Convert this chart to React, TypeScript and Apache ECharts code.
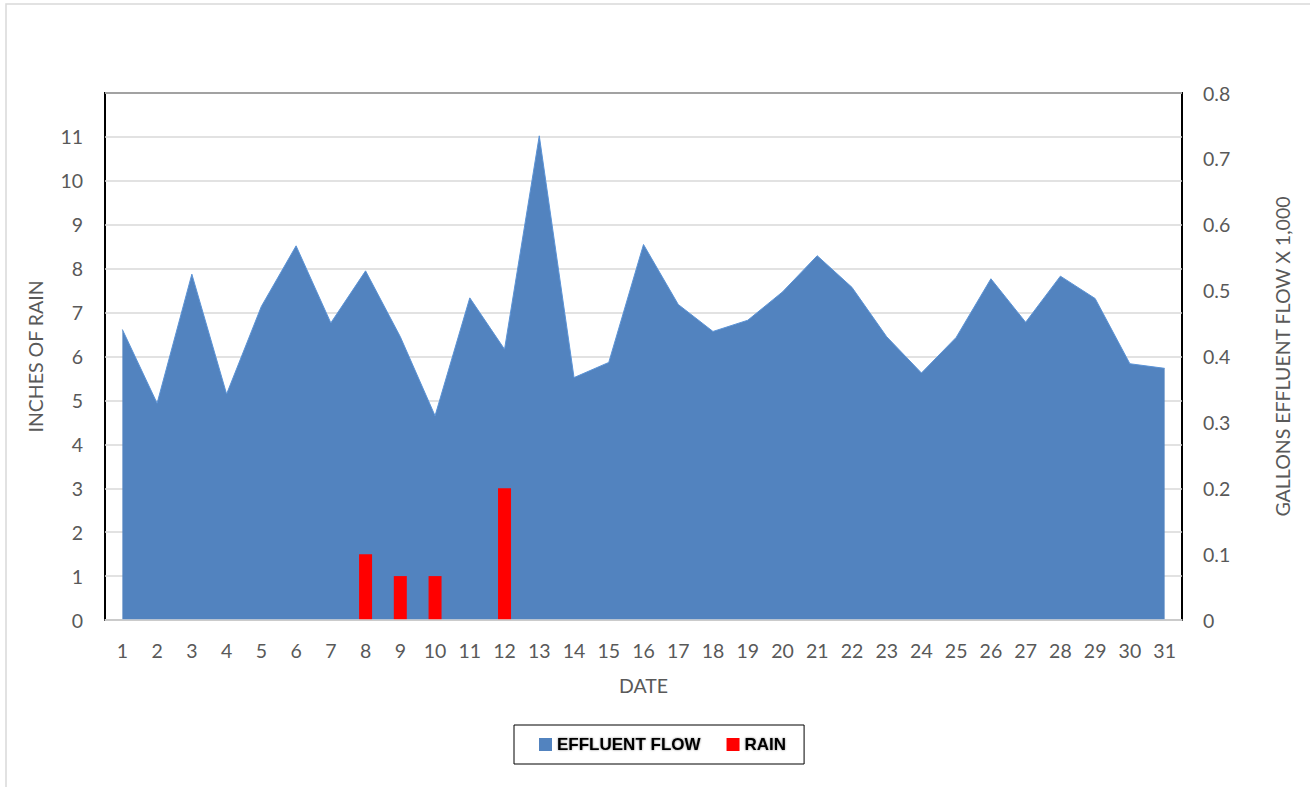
import React, { useEffect, useRef } from "react";
import * as echarts from "echarts";

const dates: string[] = Array.from({ length: 31 }, (_, i) => String(i + 1));

// Effluent flow in gallons x 1,000 (right axis)
const effluentFlow: number[] = [
  0.441, 0.329, 0.525, 0.343, 0.476, 0.568, 0.451, 0.53, 0.43, 0.31,
  0.489, 0.411, 0.735, 0.368, 0.391, 0.57, 0.479, 0.438, 0.455, 0.498,
  0.553, 0.505, 0.43, 0.375, 0.429, 0.518, 0.452, 0.522, 0.488, 0.389,
  0.382,
];

// Rain in inches (left axis)
const rain: (number | null)[] = [
  null, null, null, null, null, null, null, 1.5, 1, 1,
  null, 3, null, null, null, null, null, null, null, null,
  null, null, null, null, null, null, null, null, null, null,
  null,
];

const FONT = "Lato, 'Noto Sans', sans-serif";
const GREY = "#595959";

export default function App() {
  const ref = useRef<HTMLDivElement>(null);

  useEffect(() => {
    if (!ref.current) return;
    const chart = echarts.init(ref.current, undefined, { renderer: "svg" });
    chart.setOption({
      animation: false,
      backgroundColor: "#ffffff",
      textStyle: { fontFamily: FONT },
      graphic: [
        {
          type: "rect",
          shape: { x: 6, y: 4, width: 1340, height: 820 },
          style: { fill: "none", stroke: "#d9d9d9", lineWidth: 1.5 },
          silent: true,
          z: -1,
        },
      ],
      grid: {
        left: 105,
        right: 128,
        top: 93,
        bottom: 167,
        show: true,
        borderColor: "#000000",
        borderWidth: 2,
        backgroundColor: "transparent",
      },
      legend: {
        data: ["EFFLUENT FLOW", "RAIN"],
        left: 514,
        top: 725,
        orient: "horizontal",
        icon: "rect",
        itemWidth: 13,
        itemHeight: 13,
        itemGap: 26,
        borderColor: "#000000",
        borderWidth: 1,
        padding: [11, 18, 11, 25],
        textStyle: {
          fontFamily: "'Liberation Sans', Arial, sans-serif",
          fontWeight: "bold",
          fontSize: 17,
          color: "#000000",
          textShadowColor: "rgba(0,0,0,0.45)",
          textShadowBlur: 2,
        },
      },
      xAxis: {
        type: "category",
        data: dates,
        boundaryGap: true,
        z: 5,
        name: "DATE",
        nameLocation: "middle",
        nameGap: 55,
        nameTextStyle: { color: GREY, fontSize: 19.5, fontFamily: FONT },
        axisLine: { show: true, lineStyle: { color: "#d9d9d9", width: 1.5 } },
        axisTick: { show: false },
        axisLabel: { color: GREY, fontSize: 19.5, margin: 20, fontFamily: FONT, interval: 0 },
        splitLine: { show: false },
      },
      yAxis: [
        {
          type: "value",
          min: 0,
          max: 12,
          interval: 1,
          position: "left",
          name: "INCHES OF RAIN",
          nameLocation: "middle",
          nameRotate: 90,
          nameGap: 60,
          nameTextStyle: { color: GREY, fontSize: 19.5, fontFamily: FONT },
          axisLine: { show: false },
          axisTick: { show: false },
          axisLabel: { color: GREY, fontSize: 19.5, margin: 22, fontFamily: FONT, showMaxLabel: false },
          splitLine: { show: true, lineStyle: { color: "#d9d9d9", width: 1.5 } },
        },
        {
          type: "value",
          min: 0,
          max: 0.8,
          interval: 0.1,
          position: "right",
          name: "GALLONS EFFLUENT FLOW X 1,000",
          nameLocation: "middle",
          nameRotate: 90,
          nameGap: 90,
          nameTextStyle: { color: GREY, fontSize: 19.5, fontFamily: FONT },
          axisLine: { show: false },
          axisTick: { show: false },
          axisLabel: { color: GREY, fontSize: 19.5, margin: 21, fontFamily: FONT },
          splitLine: { show: false },
        },
      ],
      series: [
        {
          name: "EFFLUENT FLOW",
          type: "line",
          yAxisIndex: 1,
          data: effluentFlow,
          symbol: "none",
          itemStyle: { color: "#5283BF" },
          lineStyle: { color: "#5B93D6", width: 1 },
          areaStyle: { color: "#5283BF", opacity: 1 },
          z: 2,
        },
        {
          name: "RAIN",
          type: "bar",
          yAxisIndex: 0,
          data: rain,
          barWidth: 13,
          itemStyle: { color: "#FF0000" },
          z: 3,
        },
      ],
    });
    return () => chart.dispose();
  }, []);

  return (
    <div
      ref={ref}
      style={{ position: "absolute", left: 0, top: 0, width: 1310, height: 787 }}
    />
  );
}
